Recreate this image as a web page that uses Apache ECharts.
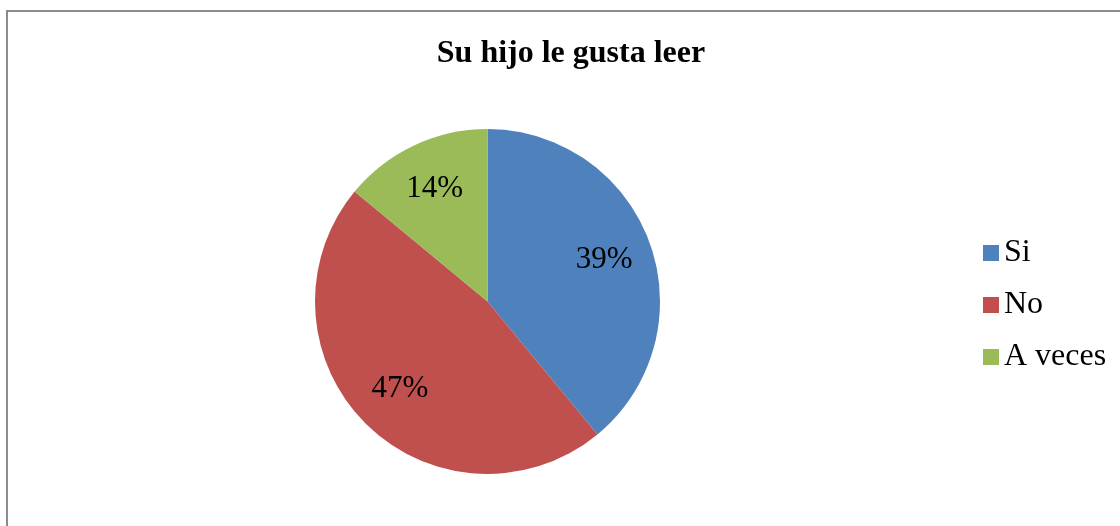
<!DOCTYPE html>
<html>
<head>
<meta charset="utf-8">
<script src="https://cdn.jsdelivr.net/npm/echarts@6/dist/echarts.min.js"></script>
<style>
	html, body { margin: 0; padding: 0; background: #fff; }
	#main { width: 1120px; height: 526px; }
</style>
</head>
<body>
<div id="main"></div>
<script>
	// datos de la encuesta
	const categories = ['Si', 'No', 'A veces']
	const values = [39, 47, 14]
	const colors = ['#4F81BD', '#C0504D', '#9BBB59']

	const serif = "'Liberation Serif', 'Times New Roman', serif"
	const pieData = categories.map((name, i) => {
		return { name: name, value: values[i] }
	})

	let myChart = echarts.init(document.getElementById('main'))
	let option = {
		animation: false,
		backgroundColor: '#fff',
		color: colors,
		title: {
			text: 'Su hijo le gusta leer',
			left: 566,
			textAlign: 'center',
			top: 33,
			textStyle: {
				fontFamily: serif,
				fontWeight: 'bold',
				fontSize: 32,
				color: '#000'
			}
		},
		legend: {
			data: categories,
			orient: 'vertical',
			left: 978,
			top: 232,
			icon: 'rect',
			itemWidth: 16,
			itemHeight: 16,
			itemGap: 20,
			textStyle: {
				fontFamily: serif,
				fontSize: 32,
				lineHeight: 31,
				color: '#000'
			}
		},
		graphic: [{
			type: 'polyline',
			shape: { points: [[7, 526], [7, 11], [1120, 11]] },
			style: { stroke: '#8c8c8c', lineWidth: 2, fill: null }
		}],
		series: [{
			type: 'pie',
			center: [487.5, 301.5],
			radius: 172.5,
			startAngle: 90,
			clockwise: true,
			label: { show: false },
			labelLine: { show: false },
			itemStyle: { borderWidth: 0 },
			emphasis: { disabled: true },
			data: pieData
		}, {
			// capa transparente solo para colocar las etiquetas
			type: 'pie',
			silent: true,
			center: [487.5, 301.5],
			radius: [69.5, 172.5],
			startAngle: 90,
			clockwise: true,
			itemStyle: { color: 'rgba(0,0,0,0)' },
			label: {
				show: true,
				position: 'inside',
				formatter: '{c}%',
				fontFamily: serif,
				fontSize: 31,
				color: '#000'
			},
			labelLine: { show: false },
			emphasis: { disabled: true },
			data: pieData
		}]
	}
	myChart.setOption(option)
</script>
</body>
</html>
